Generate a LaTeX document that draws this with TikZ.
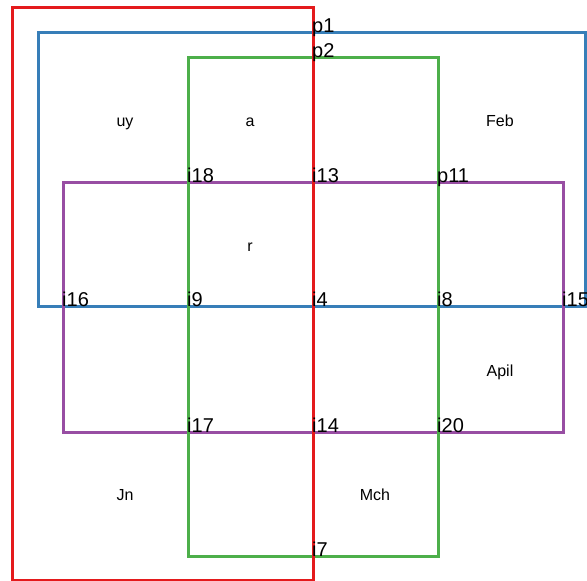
\documentclass[tikz,border=0pt]{standalone}
\usepackage{fontspec}
\setmainfont{Liberation Sans}
\definecolor{cred}{HTML}{E41A1C}
\definecolor{cblue}{HTML}{377EB8}
\definecolor{cgreen}{HTML}{4DAF4A}
\definecolor{cpurple}{HTML}{984EA3}
\tikzset{
  setbox/.style={line width=3pt, line join=miter},
  ptlabel/.style={anchor=base west, inner sep=0pt, font=\fontsize{20}{24}\selectfont},
  reglabel/.style={anchor=base, inner sep=0pt, font=\fontsize{16}{19}\selectfont}
}
\begin{document}
\begin{tikzpicture}[x=1pt,y=-1pt]
\useasboundingbox (0,0) rectangle (587,581);
% sets
\draw[setbox, cblue] (38,32) rectangle (585,306);
\draw[setbox, cpurple] (63,182) rectangle (563,432);
\draw[setbox, cgreen] (188,57) rectangle (438,556);
\draw[setbox, cred] (12.5,7) rectangle (313,580);
% region labels
\node[reglabel] (uy) at (125,126) {uy};
\node[reglabel] (a) at (250,126) {a};
\node[reglabel] (feb) at (500,126) {Feb};
\node[reglabel] (r) at (250,251) {r};
\node[reglabel] (apil) at (500,376) {Apil};
\node[reglabel] (jn) at (125,500) {Jn};
\node[reglabel] (mch) at (375,500) {Mch};
% point labels
\node[ptlabel] (p1) at (312,32) {p1};
\node[ptlabel] (p2) at (312,57) {p2};
\node[ptlabel] (i18) at (187,182) {i18};
\node[ptlabel] (i13) at (312,182) {i13};
\node[ptlabel] (p11) at (437,182) {p11};
\node[ptlabel] (i16) at (62,306) {i16};
\node[ptlabel] (i9) at (187,306) {i9};
\node[ptlabel] (i4) at (312,306) {i4};
\node[ptlabel] (i8) at (437,306) {i8};
\node[ptlabel] (i15) at (562,306) {i15};
\node[ptlabel] (i17) at (187,432) {i17};
\node[ptlabel] (i14) at (312,432) {i14};
\node[ptlabel] (i20) at (437,432) {i20};
\node[ptlabel] (i7) at (312,556) {i7};
\end{tikzpicture}
\end{document}
